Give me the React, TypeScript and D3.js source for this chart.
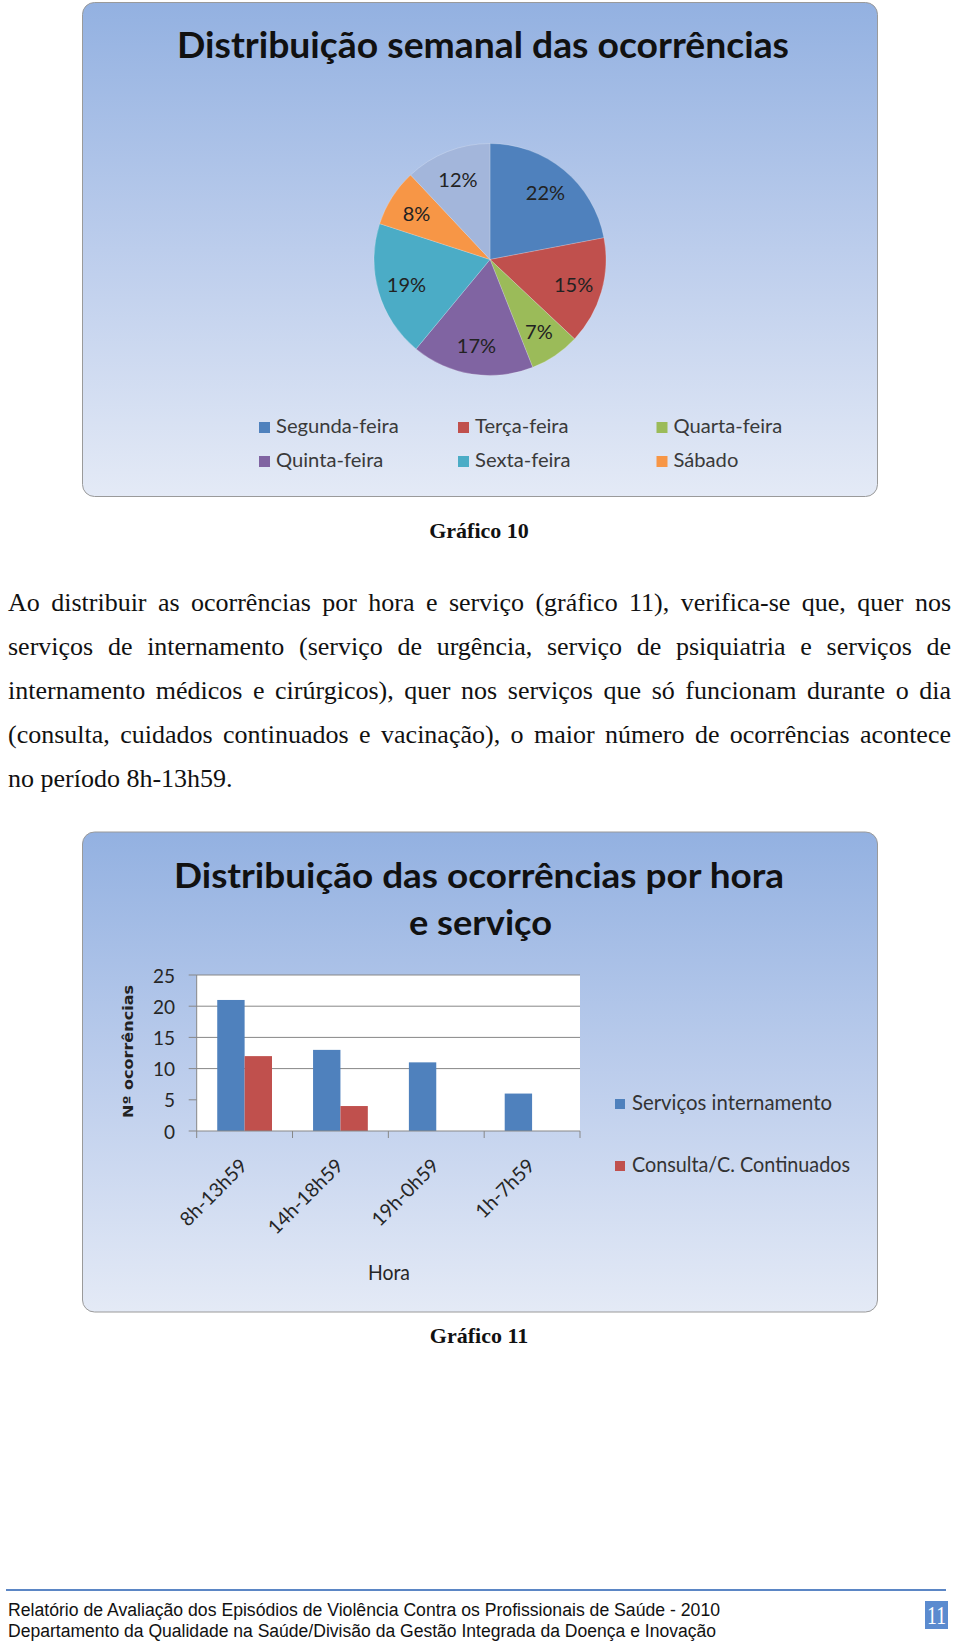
import React, { useMemo } from 'react';
import * as d3 from 'd3';

// ---------- data ----------
const dayNames = ['Segunda-feira', 'Terça-feira', 'Quarta-feira', 'Quinta-feira', 'Sexta-feira', 'Sábado', 'Domingo'];
const dayPercents = [22, 15, 7, 17, 19, 8, 12];
const dayColors = ['#4F81BD', '#C0504D', '#9BBB59', '#8064A2', '#4BACC6', '#F79646', '#A3B6DB'];
const legendDayCount = 6;

const hourCategories = ['8h-13h59', '14h-18h59', '19h-0h59', '1h-7h59'];
const seriesNames = ['Serviços internamento', 'Consulta/C. Continuados'];
const internamentoValues = [21, 13, 11, 6];
const consultaValues = [12, 4, 0, 0];
const seriesColors = ['#4F81BD', '#C0504D'];
const yTickValues = [0, 5, 10, 15, 20, 25];
const gridValues = [10, 15, 20, 25];

const paragraphLines = [
  'Ao distribuir as ocorrências por hora e serviço (gráfico 11), verifica-se que, quer nos',
  'serviços de internamento (serviço de urgência, serviço de psiquiatria e serviços de',
  'internamento médicos e cirúrgicos), quer nos serviços que só funcionam durante o dia',
  '(consulta, cuidados continuados e vacinação), o maior número de ocorrências acontece',
  'no período 8h-13h59.',
];
const footerLines = [
  'Relatório de Avaliação dos Episódios de Violência Contra os Profissionais de Saúde - 2010',
  'Departamento da Qualidade na Saúde/Divisão da Gestão Integrada da Doença e Inovação',
];

const SANS = "Lato, 'Liberation Sans', sans-serif";
const SERIF = "'Liberation Serif', 'Times New Roman', serif";

function makeMeasure(font: string) {
  let ctx: CanvasRenderingContext2D | null = null;
  try {
    ctx = document.createElement('canvas').getContext('2d');
    if (ctx) ctx.font = font;
  } catch (e) {
    ctx = null;
  }
  return (s: string) => (ctx ? ctx.measureText(s).width : s.length * 11);
}

function Paragraph() {
  const measure = useMemo(() => makeMeasure("26px 'Liberation Serif'"), []);
  const left = 8;
  const right = 951;
  const baselines = [611, 655, 699, 743, 787];
  return (
    <g fontFamily={SERIF} fontSize={26} fill="#111">
      {paragraphLines.map((line, i) => {
        const words = line.split(' ');
        const last = i === paragraphLines.length - 1;
        const widths = words.map(measure);
        const total = widths.reduce((a, b) => a + b, 0);
        const gap = last ? measure(' ') : (right - left - total) / (words.length - 1);
        let x = left;
        return (
          <text key={i} y={baselines[i]}>
            {words.map((w, j) => {
              const el = (
                <tspan key={j} x={x}>
                  {w}
                </tspan>
              );
              x += widths[j] + gap;
              return el;
            })}
          </text>
        );
      })}
    </g>
  );
}

function PieChart() {
  const measure = useMemo(() => makeMeasure("18px Lato"), []);
  const cx = 490;
  const cy = 259.5;
  const r = 116;
  const pie = d3.pie<number>().sort(null).value((d) => d);
  const arcs = pie(dayPercents);
  const arc = d3.arc<d3.PieArcDatum<number>>().innerRadius(0).outerRadius(r);
  const labelArc = d3.arc<d3.PieArcDatum<number>>().innerRadius(87).outerRadius(87);
  const legendX = [259, 458, 656.5];
  const legendY = [433, 467];
  return (
    <g>
      <rect x={82.5} y={2.5} width={795} height={494} rx={12} fill="url(#panelGrad)" stroke="#9a9a9a" strokeWidth={1} />
      <text x={483} y={58} textAnchor="middle" fontFamily={SANS} fontWeight="bold" fontSize={36} fill="#111" textLength={612} lengthAdjust="spacingAndGlyphs">
        Distribuição semanal das ocorrências
      </text>
      <g transform={`translate(${cx},${cy})`}>
        {arcs.map((a, i) => (
          <path key={i} d={arc(a) || ''} fill={dayColors[i]} stroke="rgba(255,255,255,0.35)" strokeWidth={0.6} />
        ))}
        {arcs.map((a, i) => {
          const [lx, ly] = labelArc.centroid(a);
          return (
            <text key={'l' + i} x={lx} y={ly} textAnchor="middle" dominantBaseline="central" fontFamily={SANS} fontSize={20} fill="#222">
              {dayPercents[i]}%
            </text>
          );
        })}
      </g>
      {dayNames.slice(0, legendDayCount).map((name, i) => {
        const col = i % 3;
        const row = Math.floor(i / 3);
        const x = legendX[col];
        const y = legendY[row];
        return (
          <g key={name}>
            <rect x={x} y={y - 11} width={11} height={11} fill={dayColors[i]} />
            <text x={x + 17} y={y} fontFamily={SANS} fontSize={18.5} fill="#3a3a3a" textLength={measure(name) * 1.12} lengthAdjust="spacingAndGlyphs">
              {name}
            </text>
          </g>
        );
      })}
    </g>
  );
}

function BarChart() {
  const plotLeft = 196.7;
  const plotRight = 580;
  const plotTop = 975;
  const plotBottom = 1131;
  const x = d3.scaleBand<string>().domain(hourCategories).range([plotLeft, plotRight]).paddingInner(0).paddingOuter(0);
  const y = d3.scaleLinear().domain([0, 25]).range([plotBottom, plotTop]);
  const bw = x.bandwidth();
  const barW = bw / 3.5;
  const series = [internamentoValues, consultaValues];
  const boundaries = hourCategories.map((c) => x(c) as number).concat([plotRight]);
  return (
    <g>
      <rect x={82.5} y={832} width={795} height={480} rx={12} fill="url(#panelGrad)" stroke="#9a9a9a" strokeWidth={1} />
      <text textAnchor="middle" fontFamily={SANS} fontWeight="bold" fontSize={35} fill="#111">
        <tspan x={479} y={888} textLength={610} lengthAdjust="spacingAndGlyphs">
          Distribuição das ocorrências por hora
        </tspan>
        <tspan x={480.5} y={935} textLength={143} lengthAdjust="spacingAndGlyphs">
          e serviço
        </tspan>
      </text>
      <rect x={plotLeft} y={plotTop} width={plotRight - plotLeft} height={plotBottom - plotTop} fill="#ffffff" />
      {gridValues.map((v) => (
        <line key={v} x1={plotLeft} x2={plotRight} y1={y(v)} y2={y(v)} stroke="#878787" strokeWidth={1} />
      ))}
      {series.map((vals, si) =>
        vals.map((v, ci) =>
          v > 0 ? (
            <rect
              key={si + '-' + ci}
              x={(x(hourCategories[ci]) as number) + 0.75 * barW + si * barW}
              y={y(v)}
              width={barW}
              height={y(0) - y(v)}
              fill={seriesColors[si]}
            />
          ) : null
        )
      )}
      <line x1={plotLeft} x2={plotLeft} y1={plotTop} y2={plotBottom} stroke="#878787" strokeWidth={1} />
      <line x1={plotLeft} x2={plotRight} y1={plotBottom} y2={plotBottom} stroke="#878787" strokeWidth={1} />
      {yTickValues.map((v) => (
        <g key={v}>
          <line x1={plotLeft - 8} x2={plotLeft} y1={y(v)} y2={y(v)} stroke="#878787" strokeWidth={1} />
          <text x={175} y={y(v)} textAnchor="end" dominantBaseline="central" fontFamily={SANS} fontSize={19} fill="#262626">
            {v}
          </text>
        </g>
      ))}
      {boundaries.map((bx, i) => (
        <line key={i} x1={bx} x2={bx} y1={plotBottom} y2={plotBottom + 7} stroke="#878787" strokeWidth={1} />
      ))}
      {hourCategories.map((c) => {
        const ax = (x(c) as number) + bw / 2 + 4;
        const ay = 1167;
        return (
          <text key={c} x={ax} y={ay} transform={`rotate(-45 ${ax} ${ay})`} textAnchor="end" fontFamily={SANS} fontSize={19.5} fill="#262626">
            {c}
          </text>
        );
      })}
      <text
        x={133}
        y={1051.5}
        transform="rotate(-90 133 1051.5)"
        textAnchor="middle"
        fontFamily="'DejaVu Sans', sans-serif"
        fontWeight="bold"
        fontSize={14.5}
        fill="#222"
        textLength={133}
        lengthAdjust="spacingAndGlyphs"
      >
        Nº ocorrências
      </text>
      <text x={389} y={1280} textAnchor="middle" fontFamily={SANS} fontSize={22} fill="#262626" textLength={42} lengthAdjust="spacingAndGlyphs">
        Hora
      </text>
      {seriesNames.map((name, i) => {
        const ly = [1110, 1172][i];
        return (
          <g key={name}>
            <rect x={615} y={ly - 11} width={10} height={10} fill={seriesColors[i]} />
            <text x={632} y={ly} fontFamily={SANS} fontSize={21} fill="#333" textLength={[200, 218][i]} lengthAdjust="spacingAndGlyphs">
              {name}
            </text>
          </g>
        );
      })}
    </g>
  );
}

export default function App() {
  return (
    <svg
      width={960}
      height={1644}
      viewBox="0 0 960 1644"
      style={{ position: 'absolute', left: 0, top: 0, background: '#ffffff' }}
    >
      <defs>
        <linearGradient id="panelGrad" x1="0" y1="0" x2="0" y2="1">
          <stop offset="0" stopColor="#93B1E1" />
          <stop offset="0.5" stopColor="#BCCDEC" />
          <stop offset="1" stopColor="#E4EAF6" />
        </linearGradient>
      </defs>
      <rect x={0} y={0} width={960} height={1644} fill="#ffffff" />
      <PieChart />
      <text x={479} y={538} textAnchor="middle" fontFamily={SERIF} fontWeight="bold" fontSize={22} fill="#111">
        Gráfico 10
      </text>
      <Paragraph />
      <BarChart />
      <text x={479} y={1343} textAnchor="middle" fontFamily={SERIF} fontWeight="bold" fontSize={22} fill="#111">
        Gráfico 11
      </text>
      <line x1={6} x2={946} y1={1590} y2={1590} stroke="#5B86C5" strokeWidth={2} />
      <text fontFamily="'Liberation Sans', Arial, sans-serif" fontSize={18} fill="#111">
        <tspan x={8} y={1616} textLength={712} lengthAdjust="spacingAndGlyphs">
          {footerLines[0]}
        </tspan>
        <tspan x={8} y={1637} textLength={708} lengthAdjust="spacingAndGlyphs">
          {footerLines[1]}
        </tspan>
      </text>
      <rect x={925} y={1601} width={23} height={28} fill="#5B8BCF" />
      <text x={936.5} y={1624} textAnchor="middle" fontFamily={SERIF} fontSize={25} fill="#ffffff" textLength={19} lengthAdjust="spacingAndGlyphs">
        11
      </text>
    </svg>
  );
}
